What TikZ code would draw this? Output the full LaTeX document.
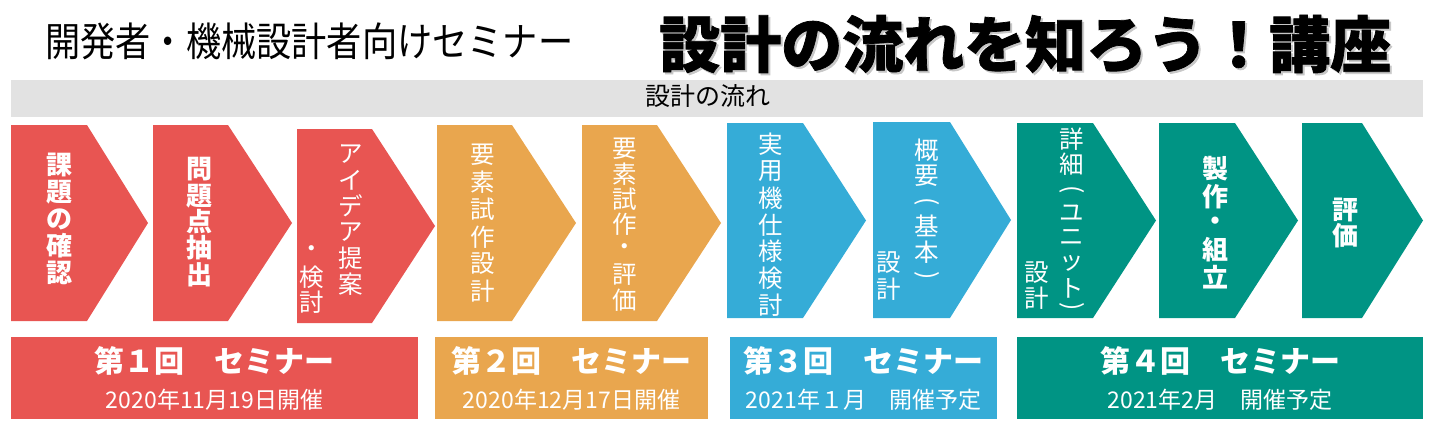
\documentclass[tikz,border=0pt]{standalone}
\usepackage{fontspec}
\usepackage{graphicx}
\newfontfamily\jp{Noto Sans CJK JP}
\newfontfamily\jpcond[FakeStretch=0.88]{Noto Sans CJK JP}
\newfontfamily\jpheavy[BoldFeatures={FakeBold=1.2}]{Noto Sans CJK JP}
\definecolor{stepred}{HTML}{E85552}
\definecolor{steporange}{HTML}{E9A64E}
\definecolor{stepblue}{HTML}{35ACD7}
\definecolor{stepgreen}{HTML}{009484}
\definecolor{flowgray}{HTML}{E2E2E2}
\def\chevron[#1](#2:#3:#4:#5:#6){\fill[#1] (#2,#5) -- (#3,#5) -- (#4,{(#5+#6)/2}) -- (#3,#6) -- (#2,#6) -- cycle;}
\newcommand\flowcol[4]{\foreach \c/\y [count=\k] in {#4} \node[#1] (#2-\k) at (#3,\y) {\c};}
\def\lp{\rotatebox{-90}{(}}
\def\rp{\rotatebox{-90}{)}}
\tikzset{
  colchar/.style={text=white, inner sep=0pt, font=\jp\fontsize{24.5}{24.5}\selectfont},
  colbold/.style={text=white, inner sep=0pt, font=\jp\bfseries\fontsize{26}{26}\selectfont},
  semhead/.style={text=white, inner sep=0pt, font=\jp\bfseries\fontsize{30}{30}\selectfont},
  semdate/.style={text=white, inner sep=0pt, font=\jp\fontsize{23}{23}\selectfont}
}
\begin{document}
\begin{tikzpicture}[x=1pt, y=-1pt]
			%%%%% START %%%%%
			\useasboundingbox (0,0) rectangle (1440,434);
			
			\node[anchor=west, inner sep=0pt, font=\jpcond\fontsize{40}{40}\selectfont] (lead) at (45,41) {開発者・機械設計者向けセミナー};
			\node[anchor=west, inner sep=0pt, text=black!22, font=\jpheavy\bfseries\fontsize{61}{61}\selectfont] (headshadow) at (661,46) {設計の流れを知ろう！講座};
			\node[anchor=west, inner sep=0pt, font=\jpheavy\bfseries\fontsize{61}{61}\selectfont] (headline) at (659,44) {設計の流れを知ろう！講座};
			
			\fill[flowgray] (11,80) rectangle (1423,117);
			\node[inner sep=0pt, font=\jp\fontsize{25}{25}\selectfont] (flowlabel) at (708,96) {設計の流れ};
			
			\chevron[stepred](11:87:148:125:321)
			\chevron[stepred](153:228:292:125:321)
			\chevron[stepred](297:372:435:129:323)
			
			\chevron[steporange](437:512:576:125:321)
			\chevron[steporange](582:657:721:125:321)
			
			\chevron[stepblue](727:803:866:123:318)
			\chevron[stepblue](873:950:1011:122:318)
			
			\chevron[stepgreen](1017:1093:1156:123:318)
			\chevron[stepgreen](1159:1235:1298:123:318)
			\chevron[stepgreen](1302:1362:1423:123:318)
			
			\flowcol{colbold}{a}{59}{課/165,題/192,の/219,確/246,認/273}
			\flowcol{colbold}{b}{199}{問/169,題/196,点/222,抽/248,出/275}
			\flowcol{colchar}{c}{351}{ア/154,イ/180,デ/206,ア/232,提/258,案/284}
			\flowcol{colchar}{cc}{312}{・/252,検/277,討/302}
			\flowcol{colchar}{d}{483}{要/155,素/182,試/209,作/237,設/264,計/291}
			\flowcol{colchar}{e}{625}{要/149,素/174,試/199,作/224,・/250,評/275,価/300}
			\flowcol{colchar}{f}{771}{実/144,用/171,機/198,仕/225,様/251,検/278,討/305}
			\flowcol{colchar}{g}{927}{概/150,要/176,\lp/202,基/226,本/252,\rp/276}
			\flowcol{colchar}{gg}{889}{設/263,計/289}
			\flowcol{colchar}{h}{1072}{詳/139,細/164,\lp/190,ユ/213,ニ/238,ッ/263,ト/288,\rp/307}
			\flowcol{colchar}{hh}{1037}{設/273,計/298}
			\flowcol{colbold}{i}{1215}{製/169,作/197,・/224,組/250,立/277}
			\flowcol{colbold}{j}{1345}{評/210,価/236}
			
			\fill[stepred] (11,337) rectangle (418,419);
			\node[semhead] (sem1) at (214.5,361) {第１回　セミナー};
			\node[semdate] (date1) at (214.5,400) {2020年11月19日開催};
			
			\fill[steporange] (435,337) rectangle (708,419);
			\node[semhead] (sem2) at (571.5,361) {第２回　セミナー};
			\node[semdate] (date2) at (571.5,400) {2020年12月17日開催};
			
			\fill[stepblue] (730,337) rectangle (997,419);
			\node[semhead] (sem3) at (863.5,361) {第３回　セミナー};
			\node[semdate] (date3) at (863.5,400) {2021年１月　開催予定};
			
			\fill[stepgreen] (1017,337) rectangle (1423,419);
			\node[semhead] (sem4) at (1220,361) {第４回　セミナー};
			\node[semdate] (date4) at (1220,400) {2021年2月　開催予定};
			
			%%%%% END %%%%%
\end{tikzpicture}
\end{document}
